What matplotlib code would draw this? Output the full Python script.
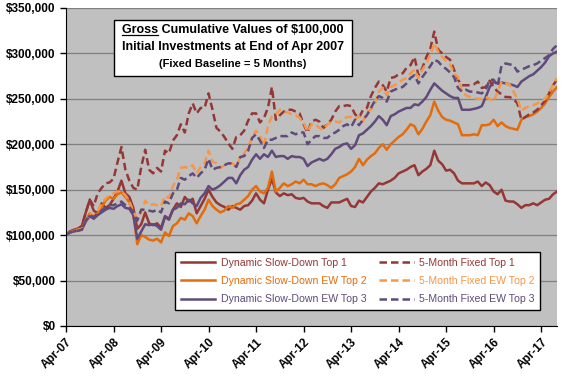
#!/usr/bin/env python3
"""Gross cumulative values of $100,000 initial investments, Apr 2007 - Aug 2017."""

import matplotlib
matplotlib.use("Agg")
import matplotlib.pyplot as plt
from matplotlib.patches import Rectangle
from matplotlib.ticker import FuncFormatter

plt.rcParams["font.family"] = ["Liberation Sans", "DejaVu Sans"]

COLORS = {
    "red": "#953735",
    "orange": "#E46C0A",
    "orange_dash": "#F79646",
    "purple": "#604A7B",
    "bg": "#C0C0C0",
    "grid": "#808080",
}

# month index 0 = Apr-07 ... 124 = Aug-17; values in $ thousands
tick_labels = ["Apr-07", "Apr-08", "Apr-09", "Apr-10", "Apr-11", "Apr-12",
               "Apr-13", "Apr-14", "Apr-15", "Apr-16", "Apr-17"]

dyn_top1 = [
    100, 104, 106, 107, 110, 125, 139, 127, 124, 135, 130, 133,
    140, 148, 160, 146, 142, 130, 107, 112, 125, 113, 111, 113,
    108, 121, 118, 128, 135, 131, 142, 137, 140, 124, 132, 140,
    150, 142, 136, 133, 131, 128, 132, 130, 128, 132, 133, 138,
    146, 139, 135, 150, 162, 147, 143, 146, 144, 145, 141, 140,
    141, 137, 135, 135, 135, 132, 130, 136, 136, 136, 138, 140,
    132, 131, 138, 136, 142, 148, 152, 157, 156, 158, 160, 163,
    168, 170, 172, 175, 177, 166, 170, 173, 177, 193, 182, 178,
    171, 172, 168, 160, 157, 157, 157, 157, 159, 154, 158, 155,
    148, 145, 150, 138, 137, 137, 134, 130, 133, 133, 135, 133,
    136, 139, 140, 145, 148,
]

dyn_ew2 = [
    100, 103, 105, 106, 107, 116, 124, 121, 124, 131, 138, 142,
    140, 145, 147, 142, 136, 124, 90, 100, 98, 95, 94, 96,
    92, 103, 99, 110, 113, 119, 117, 124, 121, 113, 121, 128,
    139, 132, 128, 125, 127, 132, 130, 134, 135, 139, 143, 150,
    154, 148, 146, 152, 170, 148, 152, 157, 154, 156, 159, 157,
    161, 156, 156, 154, 156, 157, 155, 152, 156, 163, 165, 167,
    170, 175, 184, 177, 183, 187, 190, 196, 200, 194, 200, 204,
    208, 211, 216, 222, 220, 211, 217, 225, 232, 247, 237, 230,
    227, 226, 224, 222, 210, 210, 210, 211, 210, 221, 221, 222,
    227, 220, 224, 220, 218, 217, 216, 227, 230, 231, 233, 236,
    240, 245, 252, 258, 263,
]

dyn_ew3 = [
    100, 103, 104, 105, 106, 115, 121, 118, 122, 125, 128, 130,
    129, 132, 134, 130, 129, 122, 96, 104, 112, 111, 112, 110,
    106, 120, 117, 128, 130, 135, 134, 139, 135, 132, 141, 146,
    154, 150, 152, 155, 159, 163, 163, 157, 166, 172, 175, 183,
    189, 184, 189, 186, 193, 186, 187, 187, 184, 187, 186, 186,
    184, 176, 180, 182, 184, 182, 184, 189, 195, 197, 200, 201,
    195, 199, 210, 212, 216, 220, 225, 231, 227, 221, 231, 233,
    236, 238, 240, 240, 244, 243, 247, 252, 260, 267, 263, 259,
    256, 253, 251, 251, 238, 238, 238, 239, 240, 242, 252, 263,
    269, 267, 268, 267, 266, 265, 263, 269, 272, 275, 277, 281,
    285, 290, 297, 300, 302,
]

fix_top1 = [
    100, 104, 106, 107, 110, 125, 139, 132, 146, 152, 157, 158,
    162, 180, 197, 172, 160, 152, 150, 175, 194, 172, 168, 174,
    170, 193, 190, 204, 210, 222, 213, 234, 245, 234, 240, 240,
    256, 238, 218, 214, 208, 201, 195, 208, 210, 215, 226, 234,
    234, 224, 229, 240, 263, 227, 232, 236, 238, 238, 236, 234,
    222, 213, 225, 227, 225, 218, 222, 227, 236, 242, 242, 243,
    242, 233, 229, 238, 240, 253, 262, 269, 265, 258, 273, 274,
    277, 278, 284, 287, 296, 276, 284, 296, 305, 324, 304, 300,
    296, 293, 282, 271, 265, 265, 265, 266, 269, 262, 263, 270,
    263, 258, 255, 252, 252, 250, 245, 227, 230, 233, 235, 238,
    243, 248, 256, 265, 271,
]

fix_ew2 = [
    100, 103, 105, 106, 107, 116, 124, 121, 126, 135, 140, 144,
    146, 148, 148, 144, 137, 126, 118, 125, 138, 133, 134, 133,
    132, 143, 141, 154, 161, 174, 175, 174, 177, 168, 175, 179,
    193, 181, 179, 174, 177, 179, 179, 175, 186, 190, 197, 207,
    215, 209, 198, 220, 231, 233, 238, 236, 235, 233, 232, 229,
    224, 214, 222, 222, 218, 216, 222, 224, 225, 224, 228, 230,
    230, 227, 231, 225, 236, 238, 245, 258, 262, 254, 263, 265,
    268, 271, 273, 278, 282, 273, 282, 289, 298, 311, 302, 296,
    292, 288, 278, 274, 258, 254, 252, 251, 250, 250, 252, 250,
    247, 258, 269, 267, 266, 258, 250, 237, 240, 242, 243, 245,
    247, 250, 257, 265, 273,
]

fix_ew3 = [
    100, 103, 104, 105, 106, 116, 122, 120, 124, 127, 131, 133,
    133, 135, 137, 133, 131, 125, 116, 128, 128, 127, 126, 128,
    125, 137, 135, 146, 150, 163, 161, 165, 168, 163, 168, 172,
    184, 172, 174, 175, 177, 179, 179, 175, 186, 187, 193, 207,
    211, 204, 196, 205, 205, 207, 209, 209, 209, 213, 211, 213,
    213, 200, 205, 209, 209, 207, 207, 211, 213, 216, 220, 222,
    219, 227, 221, 227, 232, 240, 248, 253, 251, 247, 258, 260,
    262, 263, 267, 273, 276, 267, 274, 280, 286, 293, 291, 286,
    283, 279, 274, 262, 258, 260, 258, 258, 257, 256, 260, 271,
    271, 264, 287, 289, 288, 287, 280, 282, 284, 286, 287, 289,
    292, 295, 298, 305, 309,
]

SERIES = [
    ("Dynamic Slow-Down Top 1", dyn_top1, COLORS["red"], "-"),
    ("Dynamic Slow-Down EW Top 2", dyn_ew2, COLORS["orange"], "-"),
    ("Dynamic Slow-Down EW Top 3", dyn_ew3, COLORS["purple"], "-"),
    ("5-Month Fixed Top 1", fix_top1, COLORS["red"], (0, (3, 1.6))),
    ("5-Month Fixed EW Top 2", fix_ew2, COLORS["orange_dash"], (0, (3, 1.6))),
    ("5-Month Fixed EW Top 3", fix_ew3, COLORS["purple"], (0, (3, 1.6))),
]


def main():
    fig = plt.figure(figsize=(5.76, 3.84), dpi=100)
    ax = fig.add_axes([66 / 576, 1 - 326 / 384, 491 / 576, 318 / 384])
    ax.set_facecolor(COLORS["bg"])

    n = len(dyn_top1)
    months = list(range(n))
    for label, vals, color, ls in SERIES:
        ax.plot(months, [v * 1000 for v in vals], color=color, linestyle=ls,
                linewidth=1.8, label=label)

    ax.set_xlim(0, n - 1)
    ax.set_ylim(0, 350000)
    ax.set_yticks(range(0, 350001, 50000))
    ax.yaxis.set_major_formatter(FuncFormatter(lambda v, _: f"${v:,.0f}"))
    ax.set_xticks(range(0, n, 12))
    ax.set_xticklabels(tick_labels, rotation=45, ha="right", rotation_mode="anchor")
    for t in ax.get_xticklabels() + ax.get_yticklabels():
        t.set_fontweight("bold")
        t.set_fontsize(8.5)

    ax.grid(axis="y", color=COLORS["grid"], linewidth=0.9)
    ax.set_axisbelow(True)
    ax.tick_params(direction="out", length=4, width=1, color="black")
    ax.spines["top"].set_visible(False)
    ax.spines["right"].set_visible(False)
    ax.spines["left"].set_color("black")
    ax.spines["bottom"].set_color("black")

    leg = ax.legend(ncol=2, loc="center", bbox_to_anchor=(0.594, 0.1415),
                    fancybox=False, framealpha=1, edgecolor="black",
                    fontsize=7.6, handlelength=3.3, handletextpad=0.5,
                    columnspacing=1.2, labelspacing=0.8, borderpad=0.55)
    leg.get_frame().set_linewidth(1.0)
    for text, (_, _, color, _) in zip(leg.get_texts(), SERIES):
        text.set_color(color)

    # title box
    box_x0, box_x1 = (114 - 66) / 491, (352 - 66) / 491
    box_y0, box_y1 = (326 - 76) / 318, (326 - 20) / 318
    ax.add_patch(Rectangle((box_x0, box_y0), box_x1 - box_x0, box_y1 - box_y0,
                           transform=ax.transAxes, facecolor="white",
                           edgecolor="black", linewidth=1.0, zorder=5))
    cx = (box_x0 + box_x1) / 2
    line1 = ax.text(cx, (326 - 30) / 318, "Gross Cumulative Values of $100,000",
                    transform=ax.transAxes, ha="center", va="center",
                    fontsize=9, fontweight="bold", zorder=6)
    ax.text(cx, (326 - 47) / 318, "Initial Investments at End of Apr 2007",
            transform=ax.transAxes, ha="center", va="center",
            fontsize=9, fontweight="bold", zorder=6)
    ax.text(cx, (326 - 64) / 318, "(Fixed Baseline = 5 Months)",
            transform=ax.transAxes, ha="center", va="center",
            fontsize=8, fontweight="bold", zorder=6)

    # underline "Gross"
    renderer = fig.canvas.get_renderer()
    full = line1.get_window_extent(renderer)
    probe = ax.text(0, 0, "Gross", fontsize=9, fontweight="bold")
    gw = probe.get_window_extent(renderer).width
    probe.remove()
    inv = ax.transAxes.inverted()
    (ux0, uy), (ux1, _) = inv.transform([(full.x0, full.y0 + 1), (full.x0 + gw, full.y0 + 1)])
    ax.plot([ux0, ux1], [uy, uy], transform=ax.transAxes, color="black",
            linewidth=0.9, zorder=7, clip_on=False)

    fig.savefig("out.png", dpi=100, facecolor="white")
    plt.close(fig)


if __name__ == "__main__":
    main()
